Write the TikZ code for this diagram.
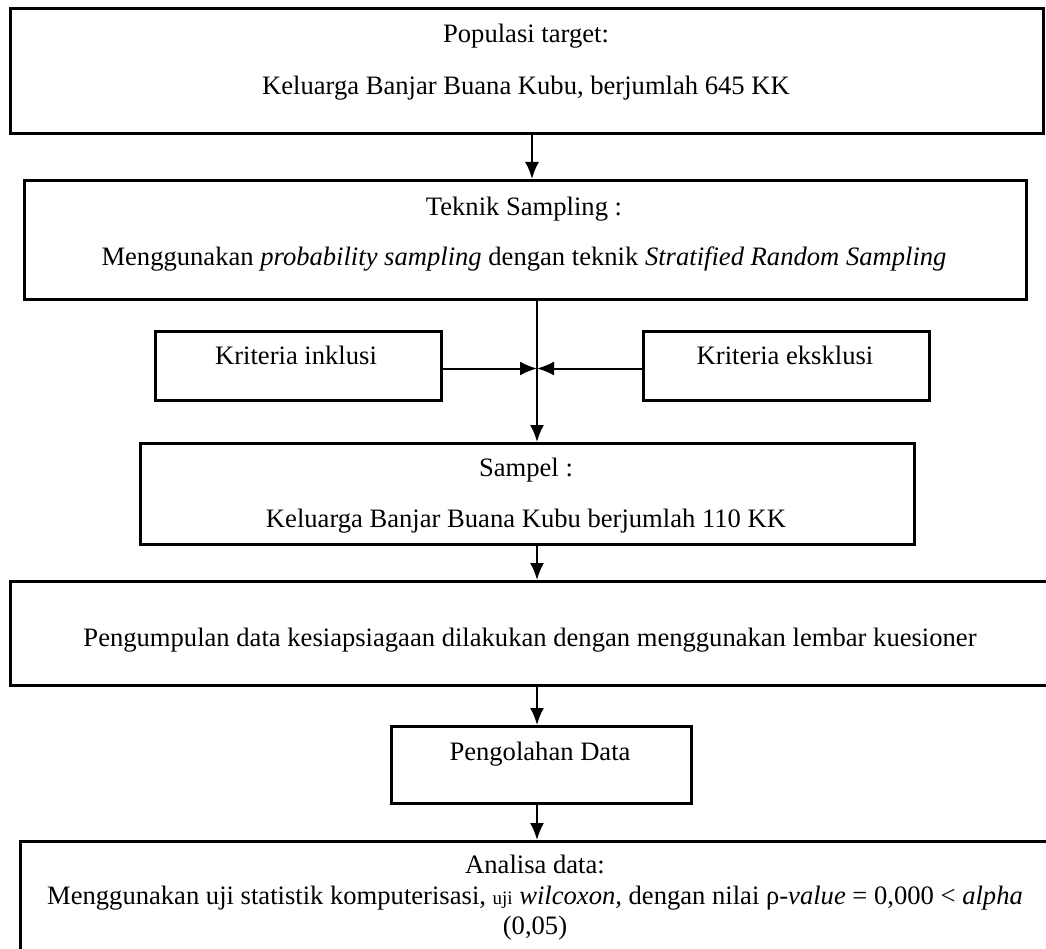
\documentclass[tikz,border=0pt]{standalone}
\usepackage{fontspec}
\setmainfont{Liberation Serif}
\usetikzlibrary{arrows.meta}
\begin{document}
\begin{tikzpicture}[x=1pt,y=-1pt,
  box/.style={draw, line width=3pt, inner sep=0pt, anchor=north west},
  txt/.style={font=\fontsize{26.6}{32}\selectfont, inner sep=0pt, anchor=mid},
  conn/.style={line width=2pt, -{Latex[length=17pt,width=14pt]}}]
\useasboundingbox (0,0) rectangle (1046,949);
\clip (0,0) rectangle (1046,949);
% boxes
\node[box, minimum width=1033pt, minimum height=125pt] (b1) at (9,7) {};
\node[box, minimum width=1002pt, minimum height=119pt] (b2) at (23,179) {};
\node[box, minimum width=286pt, minimum height=69pt] (ki) at (154,330) {};
\node[box, minimum width=286pt, minimum height=69pt] (ke) at (642,330) {};
\node[box, minimum width=774pt, minimum height=101pt] (s) at (139,442) {};
\node[box, minimum width=1042pt, minimum height=104pt] (b4) at (9,580) {};
\node[box, minimum width=300pt, minimum height=77pt] (po) at (390,725) {};
\node[box, minimum width=1032pt, minimum height=125pt] (an) at (19,840) {};
% texts
\node[txt] (t1a) at (526,40) {Populasi target:};
\node[txt] (t1b) at (526,92) {Keluarga Banjar Buana Kubu, berjumlah 645 KK};
\node[txt] (t2a) at (524,213) {Teknik Sampling :};
\node[txt] (t2b) at (524,263) {Menggunakan \textit{probability sampling} dengan teknik \textit{Stratified Random Sampling}};
\node[txt] (tki) at (296,362) {Kriteria inklusi};
\node[txt] (tke) at (785,362) {Kriteria eksklusi};
\node[txt] (tsa) at (526,474) {Sampel :};
\node[txt] (tsb) at (526,525) {Keluarga Banjar Buana Kubu berjumlah 110 KK};
\node[txt] (t4) at (530,644) {Pengumpulan data kesiapsiagaan dilakukan dengan menggunakan lembar kuesioner};
\node[txt] (tpo) at (540,758) {Pengolahan Data};
\node[txt] (tan1) at (535,871) {Analisa data:};
\node[txt] (tan2) at (535,902) {Menggunakan uji statistik komputerisasi, {\fontsize{19}{22}\selectfont uji} \textit{wilcoxon,} dengan nilai ρ-\textit{value} = 0,000 < \textit{alpha}};
\node[txt] (tan3) at (535,932) {(0,05)};
% connectors
\coordinate (c1) at (532,0);
\coordinate (sp) at (537,0);
\draw[conn] (b1.south -| c1) -- (b2.north -| c1);
\draw[conn] (b2.south -| sp) -- (s.north -| sp);
\draw[conn] ([yshift=-2.5pt]ki.east) -- ([yshift=-2.5pt]ki.east -| sp);
\draw[conn] ([yshift=-2.5pt]ke.west) -- ([yshift=-2.5pt]ke.west -| sp);
\draw[conn] (s.south -| sp) -- (b4.north -| sp);
\draw[conn] (b4.south -| sp) -- (po.north -| sp);
\draw[conn] (po.south -| sp) -- (an.north -| sp);
\end{tikzpicture}
\end{document}
